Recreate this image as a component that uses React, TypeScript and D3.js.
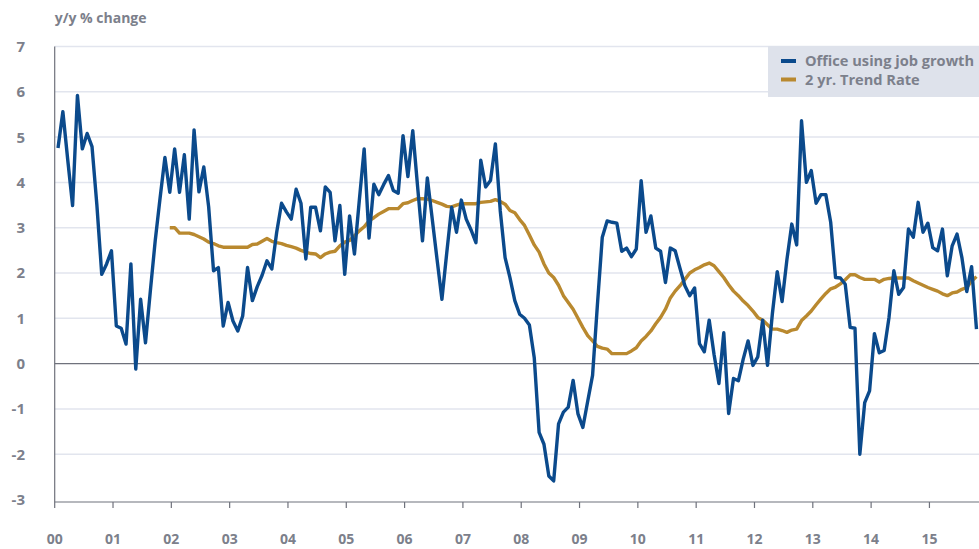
import React from 'react';
import * as d3 from 'd3';

// monthly, Jan 2000 – Oct 2015
const officeGrowth: number[] = [
  4.76, 5.56, 4.5, 3.49, 5.92, 4.74, 5.08, 4.79, 3.5, 1.97, 2.2, 2.49,
  0.83, 0.78, 0.43, 2.2, -0.12, 1.42, 0.46, 1.6, 2.71, 3.65, 4.55, 3.78,
  4.74, 3.78, 4.61, 3.19, 5.16, 3.79, 4.34, 3.46, 2.05, 2.12, 0.83, 1.35,
  0.94, 0.72, 1.05, 2.12, 1.39, 1.7, 1.95, 2.27, 2.09, 2.9, 3.54, 3.35,
  3.19, 3.85, 3.54, 2.31, 3.45, 3.45, 2.93, 3.9, 3.78, 2.71, 3.49, 1.97,
  3.26, 2.42, 3.6, 4.74, 2.77, 3.96, 3.73, 3.95, 4.15, 3.82, 3.76, 5.03,
  4.13, 5.14, 3.9, 2.71, 4.1, 3.2, 2.3, 1.42, 2.45, 3.45, 2.9, 3.61,
  3.19, 2.95, 2.67, 4.49, 3.9, 4.04, 4.85, 3.38, 2.34, 1.9, 1.39, 1.09,
  1.0, 0.85, 0.13, -1.52, -1.78, -2.48, -2.59, -1.33, -1.07, -0.96, -0.37, -1.11,
  -1.41, -0.83, -0.26, 1.3, 2.79, 3.15, 3.12, 3.1, 2.48, 2.55, 2.36, 2.53,
  4.04, 2.9, 3.26, 2.55, 2.48, 1.79, 2.55, 2.49, 2.1, 1.72, 1.5, 1.67,
  0.44, 0.26, 0.96, 0.2, -0.44, 0.68, -1.1, -0.33, -0.38, 0.1, 0.5, -0.04,
  0.15, 0.96, -0.04, 1.1, 2.03, 1.37, 2.3, 3.08, 2.62, 5.36, 4.0, 4.26,
  3.54, 3.73, 3.73, 3.12, 1.9, 1.89, 1.75, 0.8, 0.78, -2.0, -0.86, -0.6,
  0.66, 0.24, 0.29, 1.02, 2.05, 1.53, 1.68, 2.97, 2.79, 3.56, 2.9, 3.1,
  2.56, 2.49, 2.97, 1.94, 2.6, 2.86, 2.34, 1.59, 2.14, 0.76,
];

// starts Dec 2001 (month index 23)
const trendStart = 23;
const trendRate: number[] = [
  3.0, 3.0, 2.88, 2.88, 2.88, 2.85, 2.8, 2.75, 2.68, 2.65, 2.6, 2.57,
  2.57, 2.57, 2.57, 2.57, 2.57, 2.63, 2.64, 2.7, 2.76, 2.7, 2.67, 2.65,
  2.61, 2.58, 2.55, 2.5, 2.46, 2.43, 2.42, 2.34, 2.42, 2.46, 2.48, 2.6,
  2.68, 2.72, 2.82, 2.93, 3.02, 3.15, 3.22, 3.3, 3.36, 3.42, 3.42, 3.42,
  3.53, 3.55, 3.6, 3.64, 3.64, 3.63, 3.6, 3.56, 3.52, 3.47, 3.46, 3.5,
  3.53, 3.53, 3.53, 3.53, 3.56, 3.57, 3.58, 3.62, 3.58, 3.52, 3.38, 3.33,
  3.18, 3.05, 2.84, 2.62, 2.46, 2.2, 2.0, 1.9, 1.73, 1.5, 1.35, 1.2,
  1.0, 0.8, 0.62, 0.5, 0.38, 0.34, 0.32, 0.22, 0.22, 0.22, 0.22, 0.28,
  0.35, 0.5, 0.6, 0.72, 0.88, 1.02, 1.2, 1.45, 1.6, 1.72, 1.86, 2.0,
  2.07, 2.12, 2.18, 2.22, 2.16, 2.03, 1.9, 1.74, 1.6, 1.5, 1.38, 1.28,
  1.16, 1.02, 0.96, 0.86, 0.76, 0.76, 0.73, 0.69, 0.74, 0.76, 0.95, 1.05,
  1.16, 1.3, 1.43, 1.55, 1.65, 1.69, 1.76, 1.85, 1.96, 1.96, 1.9, 1.86,
  1.86, 1.86, 1.8, 1.86, 1.88, 1.89, 1.89, 1.89, 1.89, 1.83, 1.78, 1.73,
  1.68, 1.64, 1.6, 1.54, 1.5, 1.56, 1.58, 1.64, 1.68, 1.82, 1.92,
];

const yTicks = [-3, -2, -1, 0, 1, 2, 3, 4, 5, 6, 7];
const yearTicks = d3.range(2000, 2016);
const yearLabels = yearTicks.map(y => String(y % 100).padStart(2, '0'));
const legendItems = [
  { label: 'Office using job growth', color: '#0b4a8c' },
  { label: '2 yr. Trend Rate', color: '#b9892f' },
];

const W = 979;
const H = 549;
const left = 54.7;
const right = 979;
const top = 46.5;
const bottom = 502;

const textColor = '#7c808b';
const font = '"Open Sans", Lato, sans-serif';

export default function App() {
  const x = d3.scaleLinear().domain([2000, 2015.85]).range([left, right]);
  const y = d3.scaleLinear().domain([-3, 7]).range([499.5, top]);
  const monthX = (i: number) => x(2000 + (i + 0.68) / 12);

  const line = d3.line<[number, number]>()
    .x(d => monthX(d[0]))
    .y(d => y(d[1]));

  const bluePts: [number, number][] = officeGrowth.map((v, i) => [i, v]);
  const goldPts: [number, number][] = trendRate.map((v, i) => [i + trendStart, v]);

  return (
    <svg width={W} height={H} style={{ position: 'absolute', left: 0, top: 0, display: 'block' }}
      fontFamily={font}>
      <rect width={W} height={H} fill="#fff" />
      <text x={left} y={23} fontSize={14} fontWeight={700} fill={textColor}>y/y % change</text>

      {yTicks.filter(t => t !== 0 && t !== -3).map(t => (
        <line key={t} x1={left} x2={right} y1={y(t)} y2={y(t)} stroke="#e2e5ee" strokeWidth={1.5} />
      ))}
      <line x1={left} x2={right} y1={y(0)} y2={y(0)} stroke="#6f727c" strokeWidth={1.2} />

      {yTicks.map(t => (
        <text key={t} x={25} y={y(t)} dy="0.36em" textAnchor="end" fontSize={15} fontWeight={700}
          fill={textColor}>{t}</text>
      ))}

      <line x1={left} x2={left} y1={top} y2={bottom} stroke="#6f727c" strokeWidth={1.2} />
      <line x1={left} x2={right} y1={bottom} y2={bottom} stroke="#6f727c" strokeWidth={1.2} />
      {yearTicks.map((yr, i) => (
        <g key={yr}>
          <line x1={x(yr)} x2={x(yr)} y1={bottom} y2={bottom + 6} stroke="#6f727c" strokeWidth={1.2} />
          <text x={x(yr)} y={539} dy="0.36em" textAnchor="middle" fontSize={14} fontWeight={700}
            fill={textColor}>{yearLabels[i]}</text>
        </g>
      ))}

      <path d={line(goldPts) ?? ''} fill="none" stroke={legendItems[1].color} strokeWidth={3.4}
        strokeLinejoin="round" />
      <path d={line(bluePts) ?? ''} fill="none" stroke={legendItems[0].color} strokeWidth={3.4}
        strokeLinejoin="round" />

      <rect x={768} y={46} width={211} height={51} fill="#dee2eb" />
      {legendItems.map((it, i) => (
        <g key={it.label} transform={`translate(781, ${61 + i * 18.5})`}>
          <line x1={0} x2={15} y1={0} y2={0} stroke={it.color} strokeWidth={4} />
          <text x={24} y={0} dy="0.35em" fontSize={14.6} fontWeight={700} fill={textColor}>{it.label}</text>
        </g>
      ))}
    </svg>
  );
}
